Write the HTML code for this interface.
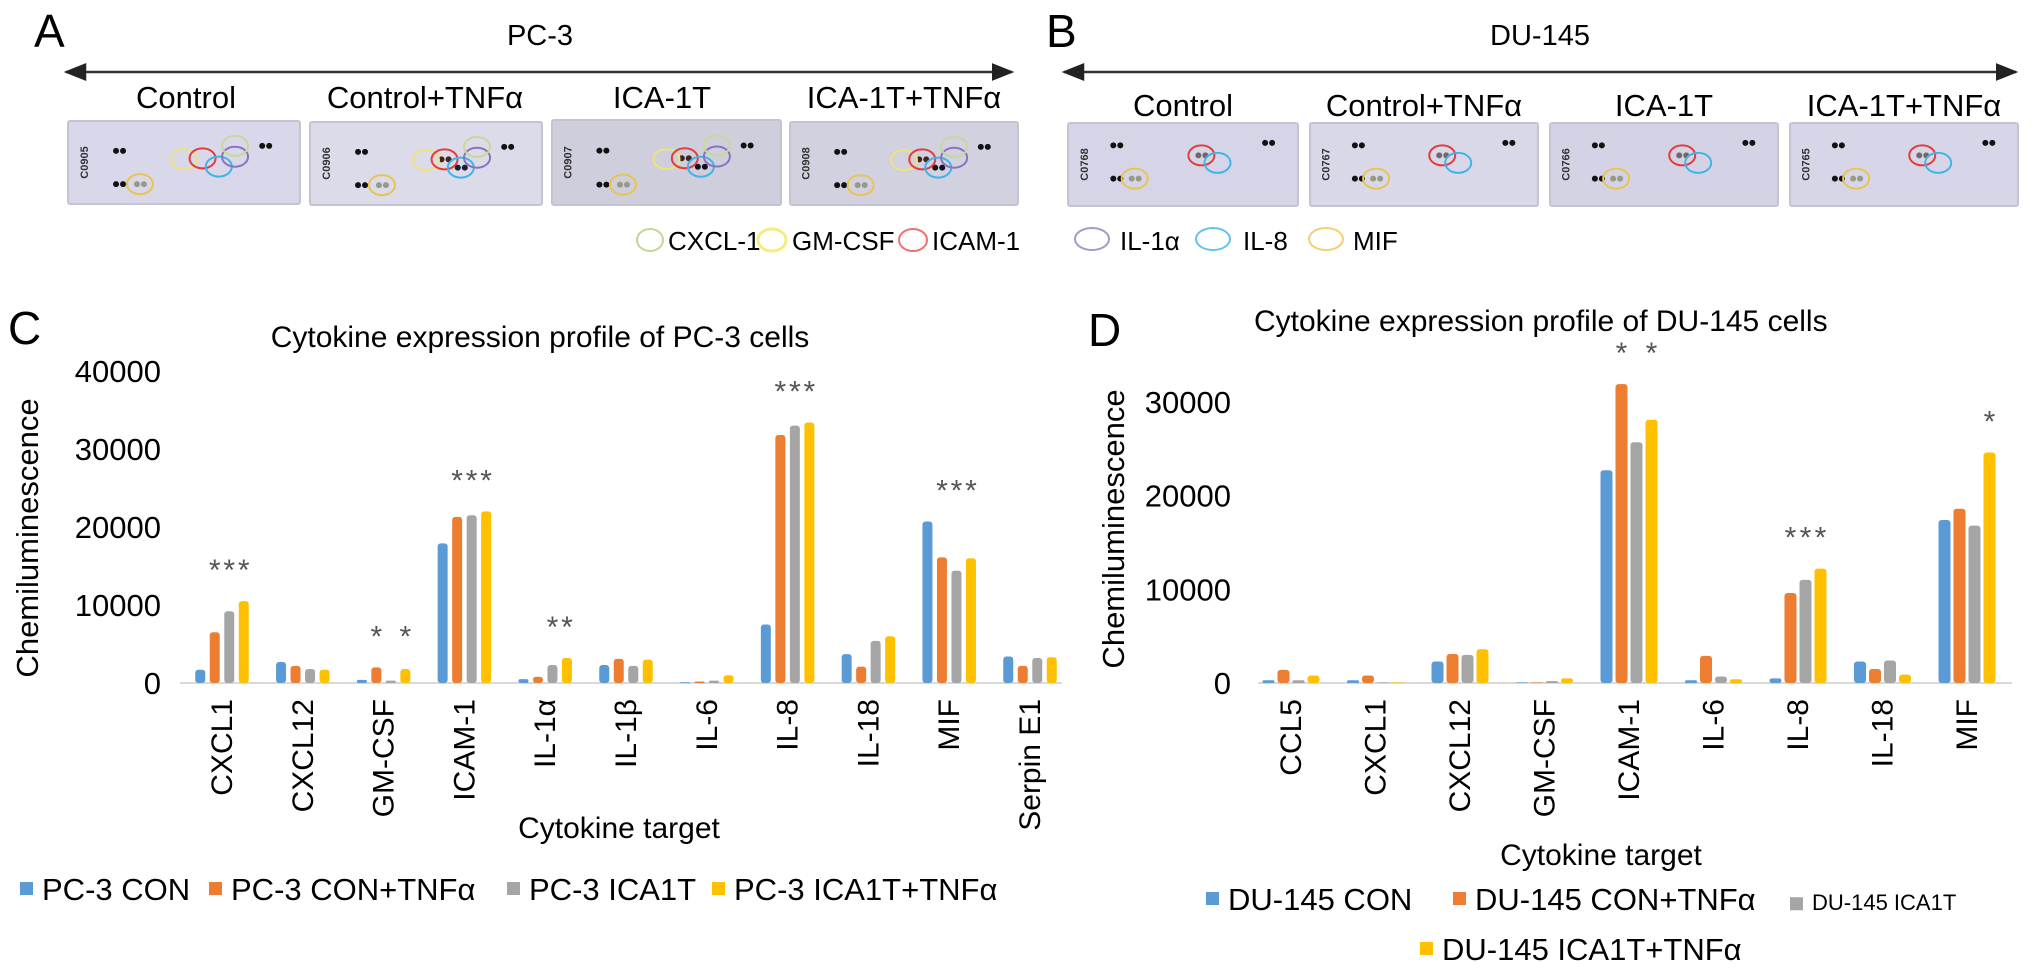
<!DOCTYPE html>
<html><head><meta charset="utf-8"><style>
html,body{margin:0;padding:0;background:#fff;}
svg{display:block;font-family:"Liberation Sans",Arial,sans-serif;}
</style></head><body>
<svg id="fig" xmlns="http://www.w3.org/2000/svg" width="2032" height="976" viewBox="0 0 2032 976">
<defs>
<marker id="ah" viewBox="0 0 10 10" refX="9" refY="5" markerWidth="9" markerHeight="9" orient="auto-start-reverse"><path d="M0,1 L10,5 L0,9 z" fill="#222"/></marker>
</defs>
<!-- Panel A header -->
<text x="34" y="47" font-size="46">A</text>
<text x="540" y="45" font-size="29" text-anchor="middle">PC-3</text>
<line x1="66" y1="72" x2="1012" y2="72" stroke="#333" stroke-width="2.5" marker-start="url(#ah)" marker-end="url(#ah)"/>
<text x="186" y="108" font-size="31" text-anchor="middle">Control</text>
<text x="425" y="108" font-size="31" text-anchor="middle">Control+TNFα</text>
<text x="662" y="108" font-size="31" text-anchor="middle">ICA-1T</text>
<text x="904" y="108" font-size="31" text-anchor="middle">ICA-1T+TNFα</text>
<!-- Panel B header -->
<text x="1046" y="47" font-size="46">B</text>
<text x="1540" y="45" font-size="29" text-anchor="middle">DU-145</text>
<line x1="1064" y1="72" x2="2016" y2="72" stroke="#333" stroke-width="2.5" marker-start="url(#ah)" marker-end="url(#ah)"/>
<text x="1183" y="116" font-size="31" text-anchor="middle">Control</text>
<text x="1424" y="116" font-size="31" text-anchor="middle">Control+TNFα</text>
<text x="1664" y="116" font-size="31" text-anchor="middle">ICA-1T</text>
<text x="1904" y="116" font-size="31" text-anchor="middle">ICA-1T+TNFα</text>
<!-- Blot legends -->
<g font-size="26">
<ellipse cx="650" cy="240" rx="13" ry="11" fill="none" stroke="#c0d890" stroke-width="2"/><text x="668" y="250">CXCL-1</text>
<ellipse cx="772" cy="240" rx="14" ry="11" fill="none" stroke="#f2ee80" stroke-width="3"/><text x="792" y="250">GM-CSF</text>
<ellipse cx="913" cy="240" rx="14" ry="11" fill="none" stroke="#f07070" stroke-width="2"/><text x="932" y="250">ICAM-1</text>
</g>
<g font-size="26">
<ellipse cx="1092" cy="239" rx="17" ry="11" fill="none" stroke="#a898c8" stroke-width="2"/><text x="1120" y="250">IL-1α</text>
<ellipse cx="1213" cy="239" rx="17" ry="11" fill="none" stroke="#60c4ec" stroke-width="2"/><text x="1243" y="250">IL-8</text>
<ellipse cx="1326" cy="239" rx="17" ry="11" fill="none" stroke="#f0d070" stroke-width="2"/><text x="1353" y="250">MIF</text>
</g>
<!-- Panel letters & titles for charts -->
<text x="8" y="344" font-size="46">C</text>
<text x="540" y="347" font-size="30" text-anchor="middle">Cytokine expression profile of PC-3 cells</text>
<text x="1088" y="346" font-size="46">D</text>
<text x="1254" y="331" font-size="30">Cytokine expression profile of DU-145 cells</text>
<g id="blots"></g>
<g id="chartC"></g>
<g id="chartD"></g>
</svg>
<script>
var NS='http://www.w3.org/2000/svg';
function mk(tag,attrs,parent,txt){var e=document.createElementNS(NS,tag);for(var k in attrs)e.setAttribute(k,attrs[k]);if(txt!==undefined)e.textContent=txt;parent.appendChild(e);return e;}

// ---------- Chart C data (PC-3) ----------
var catsC=['CXCL1','CXCL12','GM-CSF','ICAM-1','IL-1α','IL-1β','IL-6','IL-8','IL-18','MIF','Serpin E1'];
var pcCon=[1700,2700,400,17900,500,2300,100,7500,3700,20700,3400];
var pcConTnf=[6500,2200,2000,21300,800,3100,200,31800,2100,16100,2200];
var pcIca=[9200,1800,300,21500,2300,2200,300,33000,5400,14400,3200];
var pcIcaTnf=[10500,1700,1800,22000,3200,3000,1000,33400,6000,16000,3300];
var ticksC=[0,10000,20000,30000,40000];
var sigCcats=[0,2,3,4,7,9];
var sigCseries=[[1,2,3],[1,3],[1,2,3],[2,3],[1,2,3],[1,2,3]];
var legendC=['PC-3 CON','PC-3 CON+TNFα','PC-3 ICA1T','PC-3 ICA1T+TNFα'];

// ---------- Chart D data (DU-145) ----------
var catsD=['CCL5','CXCL1','CXCL12','GM-CSF','ICAM-1','IL-6','IL-8','IL-18','MIF'];
var duCon=[300,300,2300,0,22700,300,500,2300,17400];
var duConTnf=[1400,800,3100,0,31900,2900,9600,1500,18600];
var duIca=[300,0,3000,200,25700,700,11000,2400,16800];
var duIcaTnf=[800,0,3600,500,28100,400,12200,900,24600];
var ticksD=[0,10000,20000,30000];
var sigDcats=[4,6,8];
var sigDseries=[[1,3],[1,2,3],[3]];
var legendD=['DU-145 CON','DU-145 CON+TNFα','DU-145 ICA1T','DU-145 ICA1T+TNFα'];

var colors=['#5b9bd5','#ed7d31','#a5a5a5','#ffc000'];

function drawChart(g,cfg){
  var ys=function(v){return cfg.y0-v*cfg.ppu;};
  var xs=function(i){return cfg.x0+i*cfg.step;};
  var series=cfg.series;
  var n=series.length;
  // axis line
  var ax=mk('line',{x1:cfg.axL,x2:cfg.axR,y1:cfg.y0,y2:cfg.y0,stroke:'#d9d9d9','stroke-width':2},g);
  
  
  cfg.ticks.forEach(function(t){
    var tl=mk('text',{x:cfg.tickX,y:ys(t)+11,'font-size':31,'text-anchor':'end'},g,String(t));
    
    
  });
  cfg.cats.forEach(function(c,i){
    var cx=xs(i);
    series.forEach(function(s,j){
      var v=s[i];
      var bx=cx+(j-(n-1)/2)*cfg.bstep-cfg.bw/2;
      var h=Math.max(v*cfg.ppu,0.5);
      var r=mk('rect',{x:bx,y:cfg.y0-h,width:cfg.bw,height:h,rx:Math.min(3,h/2),fill:colors[j]},g);
      
      
    });
    var lbl=mk('text',{x:0,y:0,'font-size':30,'text-anchor':'end',transform:'translate('+(cx+10)+','+(cfg.y0+16)+') rotate(-90)'},g,c);
    
    
  });
  cfg.sigCats.forEach(function(ci,k){
    var mx=0;series.forEach(function(s){if(s[ci]>mx)mx=s[ci];});
    cfg.sigSeries[k].forEach(function(j){
      var ax2=xs(ci)+(j-(n-1)/2)*cfg.bstep;
      var st=mk('text',{x:ax2,y:ys(mx)-35+14,'font-size':30,'text-anchor':'middle',fill:'#555'},g,'*');
      
      
    });
  });
  var yt=mk('text',{x:0,y:0,'font-size':31,'text-anchor':'middle',transform:'translate('+cfg.ytX+','+cfg.ytY+') rotate(-90)'},g,'Chemiluminescence');
  
  
  var xt=mk('text',{x:cfg.xtX,y:cfg.xtY,'font-size':30,'text-anchor':'middle'},g,'Cytokine target');
  
  
  cfg.legend.forEach(function(L,j){
    var p=cfg.legPos[j];
    var sq=mk('rect',{x:p[0],y:p[1]-p[2]*0.58,width:13,height:13,fill:colors[j]},g);
    
    
    var lt=mk('text',{x:p[0]+22,y:p[1],'font-size':p[2]},g,L);
    
    
  });
}

drawChart(document.getElementById('chartC'),{
  cats:catsC,series:[pcCon,pcConTnf,pcIca,pcIcaTnf],ticks:ticksC,
  y0:683,ppu:78/10000,x0:222,step:80.8,bw:10,bstep:14.5,axL:180,axR:1062,tickX:161,
  sigCats:sigCcats,sigSeries:sigCseries,ytX:38,ytY:538,xtX:619,xtY:838,
  legend:legendC,legPos:[[20,900,31],[209,900,31],[507,900,31],[712,900,31]]
});
drawChart(document.getElementById('chartD'),{
  cats:catsD,series:[duCon,duConTnf,duIca,duIcaTnf],ticks:ticksD,
  y0:683,ppu:93.7/10000,x0:1291,step:84.5,bw:12,bstep:15,axL:1258,axR:2012,tickX:1231,
  sigCats:sigDcats,sigSeries:sigDseries,ytX:1124,ytY:529,xtX:1601,xtY:865,
  legend:legendD,legPos:[[1206,910,31],[1453,910,31],[1790,910,22],[1420,960,31]]
});

// ---------- Blot images ----------
var blotG=document.getElementById('blots');
function blot(x,y,w,h,fill,code,dots,ells,name){
  var g=mk('g',{},blotG);
  
  
  mk('rect',{x:x,y:y,width:w,height:h,fill:fill,stroke:'#c4c4d0','stroke-width':2,rx:2},g);
  mk('text',{x:0,y:0,'font-size':11,'font-weight':'bold','text-anchor':'middle',transform:'translate('+(x+w*0.086)+','+(y+h*0.5)+') rotate(-90)',fill:'#333'},g,code);
  dots.forEach(function(d){
    var c=d[2]||'#111';
    mk('circle',{cx:x+w*d[0]-3,cy:y+h*d[1],r:3,fill:c},g);
    mk('circle',{cx:x+w*d[0]+4,cy:y+h*d[1],r:3,fill:c},g);
  });
  ells.forEach(function(e){
    mk('ellipse',{cx:x+w*e[0],cy:y+h*e[1],rx:13,ry:10,fill:'none',stroke:e[2],'stroke-width':2},g);
  });
}
var Y='#ece47a',R='#e23c3c',B='#40b4ea',P='#8a72bc',G='#c8d89a',M='#e8c450';
var pcE=[[0.50,0.46,Y],[0.58,0.45,R],[0.65,0.55,B],[0.72,0.43,P],[0.72,0.30,G],[0.31,0.76,M]];
var pcDotsBase=[[0.22,0.36],[0.85,0.30],[0.22,0.76]];
blot(68,121,232,83,'#d9d8ea','C0905',pcDotsBase.concat([[0.31,0.76,'#998']]),pcE,'pc3-blot-control');
blot(310,122,232,83,'#dcdbe9','C0906',pcDotsBase.concat([[0.58,0.45,'#422'],[0.65,0.55,'#123'],[0.31,0.76,'#998']]),pcE,'pc3-blot-control-tnf');
blot(552,120,229,85,'#cfcedd','C0907',pcDotsBase.concat([[0.58,0.45,'#422'],[0.65,0.55,'#112'],[0.31,0.76,'#998']]),pcE,'pc3-blot-ica1t');
blot(790,122,228,83,'#d2d1e0','C0908',pcDotsBase.concat([[0.58,0.45,'#422'],[0.65,0.55,'#112'],[0.31,0.76,'#998']]),pcE,'pc3-blot-ica1t-tnf');
var duE=[[0.58,0.39,R],[0.65,0.48,B],[0.29,0.67,M]];
var duDots=[[0.21,0.27],[0.87,0.24],[0.21,0.67],[0.29,0.67,'#998'],[0.58,0.39,'#766']];
blot(1068,123,230,83,'#d6d5e8','C0768',duDots,duE,'du145-blot-control');
blot(1310,123,228,83,'#d9d8e9','C0767',duDots,duE,'du145-blot-control-tnf');
blot(1550,123,228,83,'#d4d3e5','C0766',duDots,duE,'du145-blot-ica1t');
blot(1790,123,228,83,'#d7d6e8','C0765',duDots,duE,'du145-blot-ica1t-tnf');
</script>
</body></html>
